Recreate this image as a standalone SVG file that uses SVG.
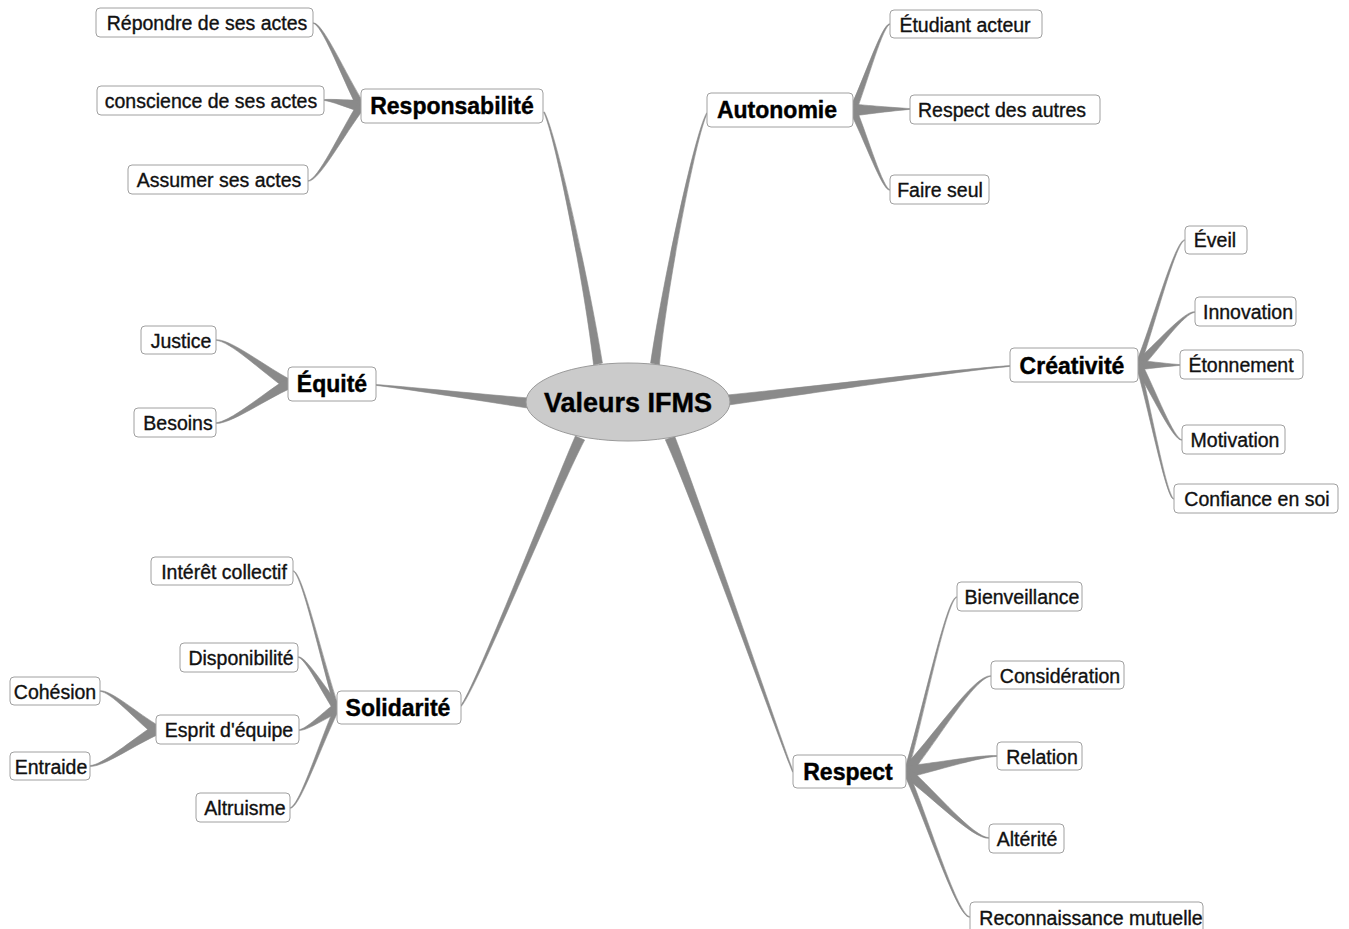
<svg xmlns="http://www.w3.org/2000/svg" width="1349" height="929" viewBox="0 0 1349 929">
<style>
.c{fill:#8a8a8a;stroke:#8a8a8a;stroke-width:0.6}
.b{fill:#fff;stroke:#a0a0a0;stroke-width:1}
.t{font-family:"Liberation Sans",Arial,sans-serif;font-size:19.5px;fill:#111;stroke:#111;stroke-width:0.35;text-anchor:middle}
.m{font-family:"Liberation Sans",Arial,sans-serif;font-size:23px;font-weight:bold;fill:#000;stroke:#000;stroke-width:0.4;text-anchor:middle}
</style>
<rect width="1349" height="929" fill="#fff"/>
<g id="connectors">
<path class="c" d="M602.4,363.1 C590.6,289.4 556.9,134.8 544.4,111.9 L543.6,112.1 C555.1,135.2 585.4,290.6 593.6,364.9 Z"/>
<path class="c" d="M659.4,364.9 C666.6,290.5 695.9,135.2 707.4,113.1 L706.6,112.9 C694.1,134.8 661.4,289.5 650.6,363.1 Z"/>
<path class="c" d="M728.6,405 C827.1,391.1 960.1,371 1010,366.4 L1010,365.6 C959.9,369 826.3,385.1 727.4,395 Z"/>
<path class="c" d="M528.6,398 C475.2,393.7 400.1,386 376,384.6 L376,385.4 C399.9,388 474.5,399.7 527.4,408 Z"/>
<path class="c" d="M575.4,436 C552.3,488.8 474.1,689.6 460.6,705.8 L461.4,706.2 C475.9,690.4 557.7,491.2 584.6,440 Z"/>
<path class="c" d="M665.3,439.7 C697.2,511 779.1,740.3 792.6,772.1 L793.4,771.9 C780.9,739.7 702.8,509 674.7,436.3 Z"/>
<path class="c" d="M364.5,104 C346.3,75.8 323.3,22.6 313.3,22.8 L312.7,23.2 C321.9,23.4 342.1,78.2 357.5,108 Z"/>
<path class="c" d="M362,100.1 C348.7,100.4 331.6,98.8 324.1,99.6 L323.9,100.4 C331.2,101.2 347.5,107.5 360,111.9 Z"/>
<path class="c" d="M357.7,103.7 C340.5,130.9 318,180.5 307.7,180.8 L308.3,181.2 C319.3,181.5 344.5,133.7 364.3,108.3 Z"/>
<path class="c" d="M856.2,111.4 C867.9,80.7 883.2,24.3 890.4,24.2 L889.6,23.8 C882,23.7 864.1,79.1 849.8,108.6 Z"/>
<path class="c" d="M853.1,116 C873.1,113.3 898.6,110.2 910,109.4 L910,108.6 C898.6,107.8 872.9,106.1 852.9,104 Z"/>
<path class="c" d="M849.8,111.5 C864.1,138.9 882,190.3 889.6,190.2 L890.4,189.8 C883.2,189.7 867.9,137.1 856.2,108.5 Z"/>
<path class="c" d="M290.6,379.7 C264.4,366 230.9,339.1 216.2,339.7 L215.8,340.3 C229.9,340.9 261.2,371.2 285.4,388.3 Z"/>
<path class="c" d="M285.6,379.6 C261.4,395.1 229.9,422.1 215.8,422.7 L216.2,423.4 C230.9,423.9 264.2,400.3 290.4,388.4 Z"/>
<path class="c" d="M1140.3,365.9 C1155.9,321.8 1176.1,240.2 1185.4,240.1 L1184.6,239.9 C1175.1,239.8 1153.1,320.8 1135.7,364.1 Z"/>
<path class="c" d="M1141.1,368.3 C1159.8,348.5 1184.2,312.7 1195.3,312.3 L1194.7,311.7 C1183,311.3 1156.2,344.5 1134.9,361.7 Z"/>
<path class="c" d="M1138,370 C1152.7,368 1171.6,366 1180,365.4 L1180,364.6 C1171.6,364 1152.7,362 1138,360 Z"/>
<path class="c" d="M1134.6,367 C1151.3,392.5 1172.5,440.4 1181.7,440.2 L1182.3,439.8 C1173.9,439.6 1155.5,390.1 1141.5,363 Z"/>
<path class="c" d="M1136.1,365.5 C1149.4,412.2 1166.4,499.1 1173.6,499.1 L1174.4,498.9 C1167.2,498.9 1151.8,411.6 1139.9,364.5 Z"/>
<path class="c" d="M338.9,707.4 C322.7,659.7 302.2,570.9 293.4,570.9 L292.6,571.1 C301.4,571.1 320.5,660.5 335.1,708.6 Z"/>
<path class="c" d="M340.2,705.6 C325.3,688.7 306.4,656.5 298.3,656.8 L297.7,657.2 C305.2,657.5 321.5,691.7 333.8,710.4 Z"/>
<path class="c" d="M334.5,703.7 C322.2,713.1 306.1,729.1 298.8,729.7 L299.2,730.4 C307.1,730.9 325.2,718.3 339.5,712.3 Z"/>
<path class="c" d="M334.7,706.9 C319.2,742.4 299,807.8 289.6,807.8 L290.4,808.2 C299.8,808.2 322,743.6 339.3,709.1 Z"/>
<path class="c" d="M158.9,725.9 C138.1,713.9 111.8,690.2 100.2,690.7 L99.8,691.3 C110.6,691.8 134.7,718.9 153.1,734.1 Z"/>
<path class="c" d="M153.6,725.6 C131.5,740 102.7,765.1 89.8,765.6 L90.2,766.4 C103.7,766.9 134.3,745.2 158.4,734.4 Z"/>
<path class="c" d="M907.9,772.6 C925,711.1 947.2,597.1 957.4,597.1 L956.6,596.9 C946.4,596.9 922.7,710.5 904.1,771.4 Z"/>
<path class="c" d="M909.7,775.3 C938,740.4 974.8,676.7 991.3,676.3 L990.7,675.7 C973.3,675.3 933.5,736.4 902.3,768.7 Z"/>
<path class="c" d="M907,777.9 C938.5,770 979,757.2 997.1,756.4 L996.9,755.6 C978.6,754.8 937.3,762.9 905,766.1 Z"/>
<path class="c" d="M902.9,775.9 C933.2,797.5 971.8,838.8 988.8,838.3 L989.2,837.7 C973,837.2 937,792.8 909.1,768.1 Z"/>
<path class="c" d="M903.7,773 C927,823.4 956.7,917.2 969.6,917.2 L970.4,916.8 C957.7,916.8 929.8,822.2 908.3,771 Z"/>
</g>
<g id="center"><ellipse cx="628" cy="402" rx="102" ry="39" fill="#cbcbcb" stroke="#9a9a9a" stroke-width="1"/><text class="m" x="628" y="412" style="font-size:27px">Valeurs IFMS</text></g>
<g id="n-responsabilite"><rect class="b" x="361" y="89" width="182" height="34" rx="4"/><text class="m" x="452" y="114">Responsabilité</text></g>
<g id="n-autonomie"><rect class="b" x="707" y="93" width="146" height="34" rx="4"/><text class="m" x="777" y="118">Autonomie</text></g>
<g id="n-equite"><rect class="b" x="288" y="367" width="88" height="34" rx="4"/><text class="m" x="332" y="392">Équité</text></g>
<g id="n-creativite"><rect class="b" x="1010" y="348" width="128" height="34" rx="4"/><text class="m" x="1072" y="374">Créativité</text></g>
<g id="n-solidarite"><rect class="b" x="337" y="691" width="124" height="33" rx="4"/><text class="m" x="398" y="716">Solidarité</text></g>
<g id="n-respect"><rect class="b" x="793" y="755" width="113" height="33" rx="4"/><text class="m" x="848" y="780">Respect</text></g>
<g id="l-repondre"><rect class="b" x="96" y="8" width="217" height="29" rx="4"/><text class="t" x="207" y="30">Répondre de ses actes</text></g>
<g id="l-conscience"><rect class="b" x="97" y="86" width="227" height="29" rx="4"/><text class="t" x="211" y="108">conscience de ses actes</text></g>
<g id="l-assumer"><rect class="b" x="128" y="165" width="180" height="29" rx="4"/><text class="t" x="219" y="187">Assumer ses actes</text></g>
<g id="l-etudiant"><rect class="b" x="890" y="10" width="152" height="28" rx="4"/><text class="t" x="965" y="32">Étudiant acteur</text></g>
<g id="l-respectautres"><rect class="b" x="910" y="95" width="190" height="29" rx="4"/><text class="t" x="1002" y="117">Respect des autres</text></g>
<g id="l-faireseul"><rect class="b" x="890" y="175" width="99" height="29" rx="4"/><text class="t" x="940" y="197">Faire seul</text></g>
<g id="l-justice"><rect class="b" x="141" y="326" width="75" height="28" rx="4"/><text class="t" x="181" y="348">Justice</text></g>
<g id="l-besoins"><rect class="b" x="134" y="408" width="82" height="29" rx="4"/><text class="t" x="178" y="430">Besoins</text></g>
<g id="l-eveil"><rect class="b" x="1185" y="226" width="62" height="28" rx="4"/><text class="t" x="1215" y="247">Éveil</text></g>
<g id="l-innovation"><rect class="b" x="1195" y="297" width="101" height="29" rx="4"/><text class="t" x="1248" y="319">Innovation</text></g>
<g id="l-etonnement"><rect class="b" x="1180" y="350" width="123" height="29" rx="4"/><text class="t" x="1241" y="372">Étonnement</text></g>
<g id="l-motivation"><rect class="b" x="1182" y="425" width="103" height="29" rx="4"/><text class="t" x="1235" y="447">Motivation</text></g>
<g id="l-confiance"><rect class="b" x="1174" y="484" width="164" height="29" rx="4"/><text class="t" x="1257" y="506">Confiance en soi</text></g>
<g id="l-interet"><rect class="b" x="151" y="557" width="142" height="28" rx="4"/><text class="t" x="224" y="579">Intérêt collectif</text></g>
<g id="l-disponibilite"><rect class="b" x="180" y="643" width="118" height="29" rx="4"/><text class="t" x="241" y="665">Disponibilité</text></g>
<g id="l-cohesion"><rect class="b" x="10" y="677" width="90" height="28" rx="4"/><text class="t" x="55" y="699">Cohésion</text></g>
<g id="l-entraide"><rect class="b" x="10" y="752" width="80" height="28" rx="4"/><text class="t" x="51" y="774">Entraide</text></g>
<g id="l-esprit"><rect class="b" x="156" y="715" width="143" height="29" rx="4"/><text class="t" x="229" y="737">Esprit d'équipe</text></g>
<g id="l-altruisme"><rect class="b" x="196" y="793" width="94" height="29" rx="4"/><text class="t" x="245" y="815">Altruisme</text></g>
<g id="l-bienveillance"><rect class="b" x="957" y="582" width="125" height="29" rx="4"/><text class="t" x="1022" y="604">Bienveillance</text></g>
<g id="l-consideration"><rect class="b" x="991" y="661" width="133" height="28" rx="4"/><text class="t" x="1060" y="683">Considération</text></g>
<g id="l-relation"><rect class="b" x="997" y="742" width="85" height="28" rx="4"/><text class="t" x="1042" y="764">Relation</text></g>
<g id="l-alterite"><rect class="b" x="989" y="824" width="75" height="29" rx="4"/><text class="t" x="1027" y="846">Altérité</text></g>
<g id="l-reconnaissance"><rect class="b" x="970" y="902" width="233" height="32" rx="4"/><text class="t" x="1091" y="925">Reconnaissance mutuelle</text></g>
</svg>
